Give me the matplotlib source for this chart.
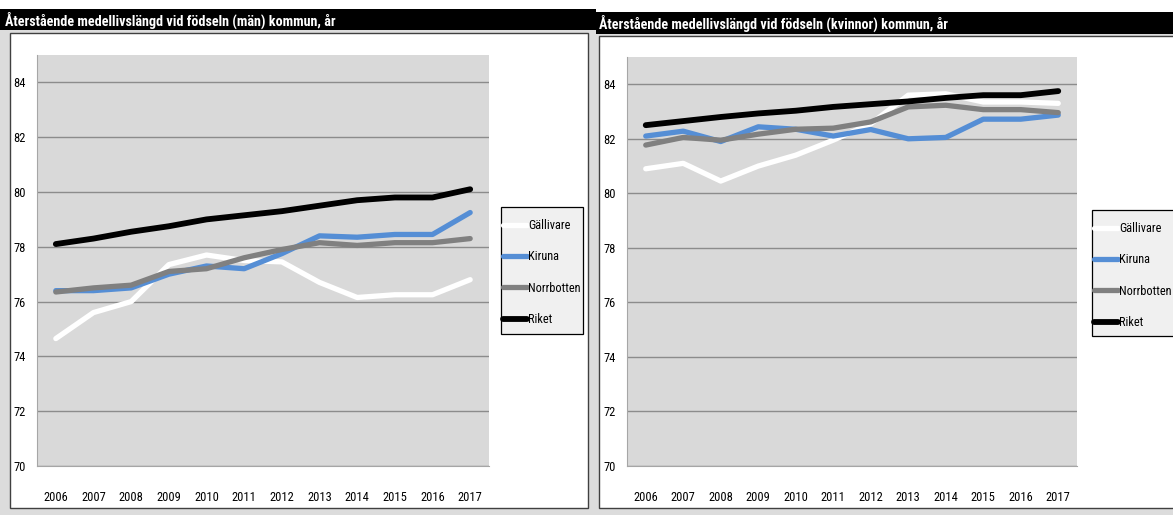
import matplotlib
matplotlib.use("Agg")
import matplotlib.pyplot as plt
from matplotlib.patches import Rectangle
from matplotlib import font_manager

W, H = 1173, 515


def pick_font():
    entries = font_manager.fontManager.ttflist
    names = {f.name for f in entries}
    for n in ['Liberation Sans Narrow', 'Arial Narrow', 'DejaVu Sans Condensed',
              'Roboto Condensed', 'Noto Sans Condensed', 'Open Sans Condensed']:
        if n in names:
            return n, 'normal', True
    for f in entries:
        st = str(f.stretch).lower()
        if st in ('condensed', 'semi-condensed', 'extra-condensed') or \
                (st.isdigit() and int(st) < 500):
            return f.name, f.stretch, True
    return 'Lato', 'normal', False


FAMILY, STRETCH, CONDENSED = pick_font()
plt.rcParams['font.family'] = [FAMILY, 'DejaVu Sans']
plt.rcParams['font.stretch'] = STRETCH

years = [2006, 2007, 2008, 2009, 2010, 2011, 2012, 2013, 2014, 2015, 2016, 2017]
series_names = ['Gällivare', 'Kiruna', 'Norrbotten', 'Riket']

men_gallivare = [74.65, 75.6, 76.0, 77.35, 77.7, 77.5, 77.45, 76.7, 76.15, 76.25, 76.25, 76.8]
men_kiruna = [76.4, 76.4, 76.5, 77.0, 77.3, 77.2, 77.75, 78.4, 78.35, 78.45, 78.45, 79.25]
men_norrbotten = [76.35, 76.5, 76.6, 77.1, 77.2, 77.6, 77.9, 78.15, 78.05, 78.15, 78.15, 78.3]
men_riket = [78.1, 78.3, 78.55, 78.75, 79.0, 79.15, 79.3, 79.5, 79.7, 79.8, 79.8, 80.1]

women_gallivare = [80.9, 81.1, 80.45, 81.0, 81.4, 81.95, 82.55, 83.6, 83.65, 83.35, 83.35, 83.3]
women_kiruna = [82.1, 82.28, 81.9, 82.44, 82.35, 82.1, 82.34, 82.0, 82.05, 82.72, 82.72, 82.87]
women_norrbotten = [81.77, 82.05, 81.95, 82.17, 82.35, 82.39, 82.62, 83.17, 83.23, 83.07, 83.07, 82.96]
women_riket = [82.5, 82.65, 82.8, 82.93, 83.03, 83.17, 83.27, 83.37, 83.5, 83.6, 83.6, 83.75]

title_men = 'Återstående medellivslängd vid födseln (män) kommun, år'
title_women = 'Återstående medellivslängd vid födseln (kvinnor) kommun, år'
yticks = [70, 72, 74, 76, 78, 80, 82, 84]

colors = {'Gällivare': '#ffffff', 'Kiruna': '#558ed5', 'Norrbotten': '#808080', 'Riket': '#000000'}
widths = {'Gällivare': 3.8, 'Kiruna': 3.8, 'Norrbotten': 3.8, 'Riket': 4.2}

TITLE_FS = 10.2 if CONDENSED else 8.5
TICK_FS = 9 if CONDENSED else 7.5
LEG_FS = 8.8 if CONDENSED else 7.3

fig = plt.figure(figsize=(W / 100, H / 100), dpi=100)
fig.patch.set_facecolor('white')


def frect(x0, y0, x1, y1, **kw):
    r = Rectangle((x0 / W, 1 - y1 / H), (x1 - x0) / W, (y1 - y0) / H,
                  transform=fig.transFigure, **kw)
    fig.add_artist(r)
    return r


frect(0, 29, W, H, facecolor='#dcdcdc', edgecolor='none', zorder=0)
frect(10, 33, 588, 508, facecolor='white', edgecolor='#404040', linewidth=1.0, zorder=1)
frect(599, 36, W + 5, 508, facecolor='white', edgecolor='#404040', linewidth=1.0, zorder=1)
frect(0, 9, 596, 30, facecolor='black', edgecolor='none', zorder=2)
frect(596, 12, W, 34, facecolor='black', edgecolor='none', zorder=2)
fig.text(5 / W, 1 - 20 / H, title_men, color='white', fontsize=TITLE_FS, fontweight='bold',
         ha='left', va='center', zorder=3)
fig.text(599 / W, 1 - 23 / H, title_women, color='white', fontsize=TITLE_FS, fontweight='bold',
         ha='left', va='center', zorder=3)


def make_axes(x0, y0, x1, y1):
    return fig.add_axes([x0 / W, 1 - y1 / H, (x1 - x0) / W, (y1 - y0) / H], zorder=4)


def draw(ax, data, box, entry_top):
    x = list(range(len(years)))
    for name in series_names:
        ax.plot(x, data[name], color=colors[name], linewidth=widths[name],
                solid_capstyle='round', label=name, zorder=3)
    ax.set_facecolor('#d9d9d9')
    ax.set_xlim(-0.5, len(years) - 0.5)
    ax.set_ylim(70, 85)
    ax.set_yticks(yticks)
    ax.set_xticks(x)
    ax.set_xticklabels([str(y) for y in years])
    ax.grid(axis='y', color='#8c8c8c', linewidth=1.0, zorder=1)
    ax.set_axisbelow(True)
    for s in ['top', 'right']:
        ax.spines[s].set_visible(False)
    ax.spines['left'].set_color('#a6a6a6')
    ax.spines['bottom'].set_color('#a6a6a6')
    ax.tick_params(axis='both', length=0, labelsize=TICK_FS, colors='black')
    ax.tick_params(axis='y', pad=8)
    ax.tick_params(axis='x', pad=18)
    frect(box[0], box[1], box[2], box[3], facecolor='#f0f0f0', edgecolor='#000000',
          linewidth=0.9, zorder=5)
    leg = fig.legend(handles=ax.get_lines(), labels=series_names,
                     loc='upper left', bbox_to_anchor=(entry_top[0] / W, 1 - entry_top[1] / H),
                     bbox_transform=fig.transFigure, frameon=False,
                     fontsize=LEG_FS, handlelength=2.0, handletextpad=0.05,
                     labelspacing=1.5, borderpad=0, borderaxespad=0)
    leg.set_zorder(6)


ax1 = make_axes(37, 55, 489, 466)
draw(ax1, {'Gällivare': men_gallivare, 'Kiruna': men_kiruna,
           'Norrbotten': men_norrbotten, 'Riket': men_riket},
     (501, 207, 583, 334), (503, 219))

ax2 = make_axes(627, 57, 1077, 466)
draw(ax2, {'Gällivare': women_gallivare, 'Kiruna': women_kiruna,
           'Norrbotten': women_norrbotten, 'Riket': women_riket},
     (1092, 210, W + 10, 336), (1094, 222))

fig.savefig('out.png', dpi=100, facecolor=fig.get_facecolor())
